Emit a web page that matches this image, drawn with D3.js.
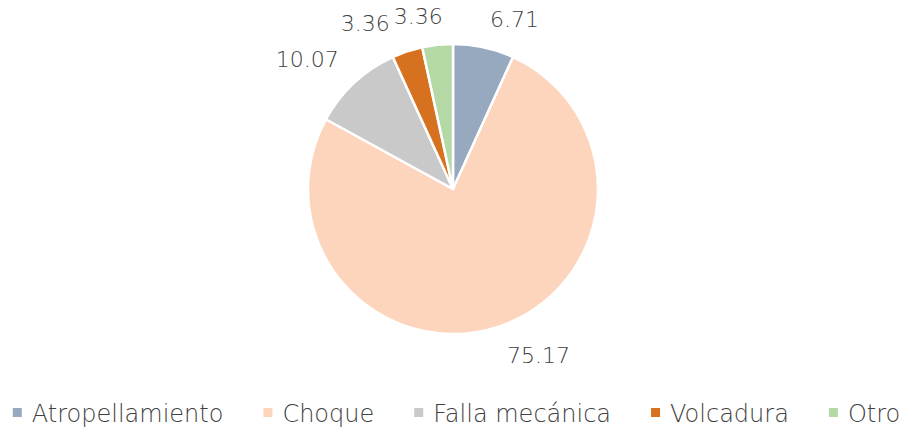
<!DOCTYPE html>
<html>
<head>
<meta charset="utf-8">
<script src="https://cdn.jsdelivr.net/npm/d3@7/dist/d3.min.js"></script>
<style>
  html, body { margin: 0; padding: 0; background: #ffffff; }
  svg { display: block; }
</style>
</head>
<body>
<svg id="chart" width="909" height="427"></svg>
<script>
const categories = ["Atropellamiento", "Choque", "Falla mecánica", "Volcadura", "Otro"];
const values = [6.71, 75.17, 10.07, 3.36, 3.36];
const colors = ["#97A9BF", "#FCD5BC", "#C9C9C9", "#D6711F", "#B5D9A5"];

const W = 909, H = 427;
const cx = 453, cy = 189, R = 145;
const textColor = "#404040";
const fontFamily = "'DejaVu Sans', sans-serif";
const fontWeight = 200;

const svg = d3.select("#chart");
const data = categories.map((c, i) => ({ name: c, value: values[i], color: colors[i] }));

const pie = d3.pie().value(d => d.value).sort(null);
const arcs = pie(data);
const arc = d3.arc().innerRadius(0).outerRadius(R);

const g = svg.append("g").attr("transform", `translate(${cx},${cy})`);
g.selectAll("path.slice")
  .data(arcs)
  .enter().append("path")
  .attr("class", "slice")
  .attr("d", arc)
  .attr("fill", d => d.data.color)
  .attr("stroke", "#ffffff")
  .attr("stroke-width", 2.5)
  .attr("stroke-linejoin", "round");

// Data labels (outside end)
const labelSize = 22;
const labels = g.selectAll("text.lbl")
  .data(arcs)
  .enter().append("text")
  .attr("class", "lbl")
  .attr("font-family", fontFamily)
  .attr("font-weight", fontWeight)
  .attr("font-size", labelSize)
  .attr("fill", textColor)
  .attr("text-anchor", "middle")
  .text(d => d.data.value.toFixed(2));

const capH = labelSize * 0.73;
const boxes = [];
labels.each(function(d) {
  const w = this.getComputedTextLength();
  const a = (d.startAngle + d.endAngle) / 2;
  const s = Math.sin(a), c = -Math.cos(a);
  const pr = R + 20;
  const x = pr * s + Math.sign(s) * (w / 2 + 2);
  const y = pr * c + Math.sign(c) * (capH / 2 + 1);
  boxes.push({ node: this, x, y, w, h: capH });
});
// simple horizontal collision resolution
for (let iter = 0; iter < 20; iter++) {
  for (let i = 0; i < boxes.length; i++) {
    for (let j = i + 1; j < boxes.length; j++) {
      const a = boxes[i], b = boxes[j];
      const ox = (a.w + b.w) / 2 + 4 - Math.abs(a.x - b.x);
      const oy = (a.h + b.h) / 2 + 2 - Math.abs(a.y - b.y);
      if (ox > 0 && oy > 0) {
        const dir = a.x < b.x ? -1 : 1;
        a.x += dir * ox / 2;
        b.x -= dir * ox / 2;
      }
    }
  }
}
boxes.forEach(b => {
  d3.select(b.node).attr("x", b.x).attr("y", b.y + b.h / 2);
});

// Legend
const legendSize = 24;
const legendY = 422;
const marker = 9, markerGap = 10, itemGap = 40;
const legend = svg.append("g");
const items = legend.selectAll("g.item")
  .data(data)
  .enter().append("g").attr("class", "item");
items.append("rect")
  .attr("width", marker).attr("height", marker)
  .attr("y", legendY - 14)
  .attr("fill", d => d.color);
items.append("text")
  .attr("x", marker + markerGap)
  .attr("y", legendY)
  .attr("font-family", fontFamily)
  .attr("font-weight", fontWeight)
  .attr("font-size", legendSize)
  .attr("fill", textColor)
  .text(d => d.name);
const widths = [];
items.each(function() {
  const tw = d3.select(this).select("text").node().getComputedTextLength();
  widths.push(marker + markerGap + tw);
});
const total = widths.reduce((a, b) => a + b, 0) + itemGap * (widths.length - 1);
let xpos = (8 + 905) / 2 - total / 2;
items.each(function(d, i) {
  d3.select(this).attr("transform", `translate(${xpos},0)`);
  xpos += widths[i] + itemGap;
});
</script>
</body>
</html>
